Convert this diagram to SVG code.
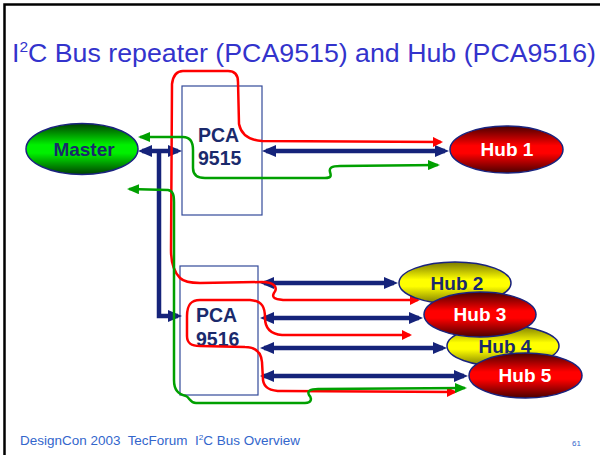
<svg xmlns="http://www.w3.org/2000/svg" width="600" height="455" viewBox="0 0 600 455">
<style>
.title{font-family:"Liberation Sans",Arial,sans-serif;fill:#3333cc}
.foot{font-family:"Liberation Sans",Arial,sans-serif;fill:#3366cc}
.box{fill:#ffffff;stroke:#334a99;stroke-width:1.2}
.lbl{font-family:"Liberation Sans",Arial,sans-serif;font-weight:bold;font-size:19.5px;fill:#1a2a6c}
.hubw{font-family:"Liberation Sans",Arial,sans-serif;font-weight:bold;font-size:19px;fill:#ffffff;text-anchor:middle}
.hubn{font-family:"Liberation Sans",Arial,sans-serif;font-weight:bold;font-size:19px;fill:#1a2a6c;text-anchor:middle}
.ell{stroke:#1a237e;stroke-width:1.5}
.navy{fill:none;stroke:#15237a;stroke-width:4.5;marker-start:url(#navyA);marker-end:url(#navyA)}
.red{fill:none;stroke:#ff0000;stroke-width:2.5;stroke-linejoin:round}
.green{fill:none;stroke:#00a000;stroke-width:2.5;stroke-linejoin:round}
</style>
<defs>
<linearGradient id="gRed" x1="0" y1="0" x2="0" y2="1">
<stop offset="0" stop-color="#4a0000"/><stop offset="0.42" stop-color="#ff0000"/><stop offset="0.58" stop-color="#ff0000"/><stop offset="1" stop-color="#4a0000"/>
</linearGradient>
<linearGradient id="gYel" x1="0" y1="0" x2="0" y2="1">
<stop offset="0" stop-color="#7a7a00"/><stop offset="0.42" stop-color="#ffff00"/><stop offset="0.58" stop-color="#ffff00"/><stop offset="1" stop-color="#7a7a00"/>
</linearGradient>
<linearGradient id="gGrn" x1="0" y1="0" x2="0" y2="1">
<stop offset="0" stop-color="#004000"/><stop offset="0.42" stop-color="#00f000"/><stop offset="0.58" stop-color="#00f000"/><stop offset="1" stop-color="#004000"/>
</linearGradient>
<marker id="navyA" viewBox="0 0 14 12" refX="10" refY="6" markerWidth="14" markerHeight="12" markerUnits="userSpaceOnUse" orient="auto-start-reverse"><path d="M0,0 L14,6 L0,12 z" fill="#15237a"/></marker>
<marker id="redA" viewBox="0 0 10 10" refX="8" refY="5" markerWidth="10" markerHeight="10" markerUnits="userSpaceOnUse" orient="auto-start-reverse"><path d="M0,0 L10,5 L0,10 z" fill="#ff0000"/></marker>
<marker id="grnA" viewBox="0 0 12 10" refX="10" refY="5" markerWidth="12" markerHeight="10" markerUnits="userSpaceOnUse" orient="auto-start-reverse"><path d="M0,0 L12,5 L0,10 z" fill="#00a000"/></marker>
</defs>
<rect width="600" height="455" fill="#ffffff"/>
<path d="M4.5,455 V4.5 H600" fill="none" stroke="#000000" stroke-width="2.5"/>
<text class="title" x="12" y="62" font-size="26" textLength="584" lengthAdjust="spacingAndGlyphs">I<tspan font-size="15" dy="-10">2</tspan><tspan dy="10">C Bus repeater (PCA9515) and Hub (PCA9516)</tspan></text>

<g id="pca9515">
<rect class="box" x="182" y="86" width="80" height="129"/>
<text class="lbl" x="198" y="142">PCA</text>
<text class="lbl" x="198" y="165">9515</text>
</g>
<g id="pca9516">
<rect class="box" x="180" y="266" width="78" height="129"/>
<text class="lbl" x="196" y="322">PCA</text>
<text class="lbl" x="196" y="346">9516</text>
</g>

<g id="connectors">
<path class="navy" d="M142,151 H178"/>
<path d="M159,151 V316 H178" fill="none" stroke="#15237a" stroke-width="4.5" marker-end="url(#navyA)"/>
<path class="navy" d="M266,151 H445"/>
<path class="navy" d="M264,283 H394"/>
<path class="navy" d="M264,318 H419"/>
<path class="navy" d="M264,348 H443"/>
<path class="navy" d="M264,376 H464"/>
<path class="red" marker-start="url(#redA)" marker-end="url(#redA)" d="M441,142 L262,141 C248,140 241,134 239,124 L238,82 C238,75 235,71 228,71 L183,71 C176,71 173,76 172,84 L171,250 C171,262 174,272 180,278 C184,282 190,283 200,283 L262,282 C275,282 278,288 274,293 C271,298 276,300 287,300 L418,300"/>
<path class="red" marker-start="url(#redA)" marker-end="url(#redA)" d="M410,335 L282,335 C270,334 265,328 265,318 C265,308 263,301 250,300 L200,300 C190,300 187,306 187,316 L187,336 C187,344 192,346 200,346 L245,347 C256,347 261,352 262,362 L263,380 C264,388 270,391 282,391 L455,392"/>
<path class="green" marker-start="url(#grnA)" marker-end="url(#grnA)" d="M140,137 L183,137 C190,137 193,141 193,150 L193,168 C193,175 197,178 205,178 L325,178 C332,178 331,175 330,172 C329,168 331,166 340,166 L438,165"/>
<path class="green" marker-start="url(#grnA)" marker-end="url(#grnA)" d="M129,189 L168,190 C173,191 174,195 174,202 L174,380 C174,390 178,394 186,396 C190,398 190,403 196,403 L305,403 C312,403 312,398 309,395 C307,391 310,389 318,389 L465,388"/>
</g>

<g id="master">
<ellipse class="ell" cx="82" cy="149" rx="56" ry="25.5" fill="url(#gGrn)"/>
<text class="hubn" x="84" y="156" font-size="18.5">Master</text>
</g>
<g id="hub1">
<ellipse class="ell" cx="506.5" cy="149.5" rx="56.5" ry="23.5" fill="url(#gRed)"/>
<text class="hubw" x="507" y="156">Hub 1</text>
</g>
<g id="hub2">
<ellipse class="ell" cx="455" cy="283" rx="56" ry="21" fill="url(#gYel)"/>
<text class="hubn" x="457" y="290">Hub 2</text>
</g>
<g id="hub4">
<ellipse class="ell" cx="503" cy="346" rx="56" ry="20.5" fill="url(#gYel)"/>
<text class="hubn" x="505" y="353">Hub 4</text>
</g>
<g id="hub3">
<ellipse class="ell" cx="480" cy="314.5" rx="56" ry="22.5" fill="url(#gRed)"/>
<text class="hubw" x="480" y="321">Hub 3</text>
</g>
<g id="hub5">
<ellipse class="ell" cx="525.5" cy="375.5" rx="56.5" ry="22.5" fill="url(#gRed)"/>
<text class="hubw" x="525" y="382">Hub 5</text>
</g>

<text class="foot" x="20" y="445" font-size="13" textLength="280" lengthAdjust="spacingAndGlyphs" xml:space="preserve">DesignCon 2003  TecForum  I<tspan font-size="8" dy="-5">2</tspan><tspan dy="5">C Bus Overview</tspan></text>
<text class="foot" x="572" y="446" font-size="8">61</text>
</svg>
